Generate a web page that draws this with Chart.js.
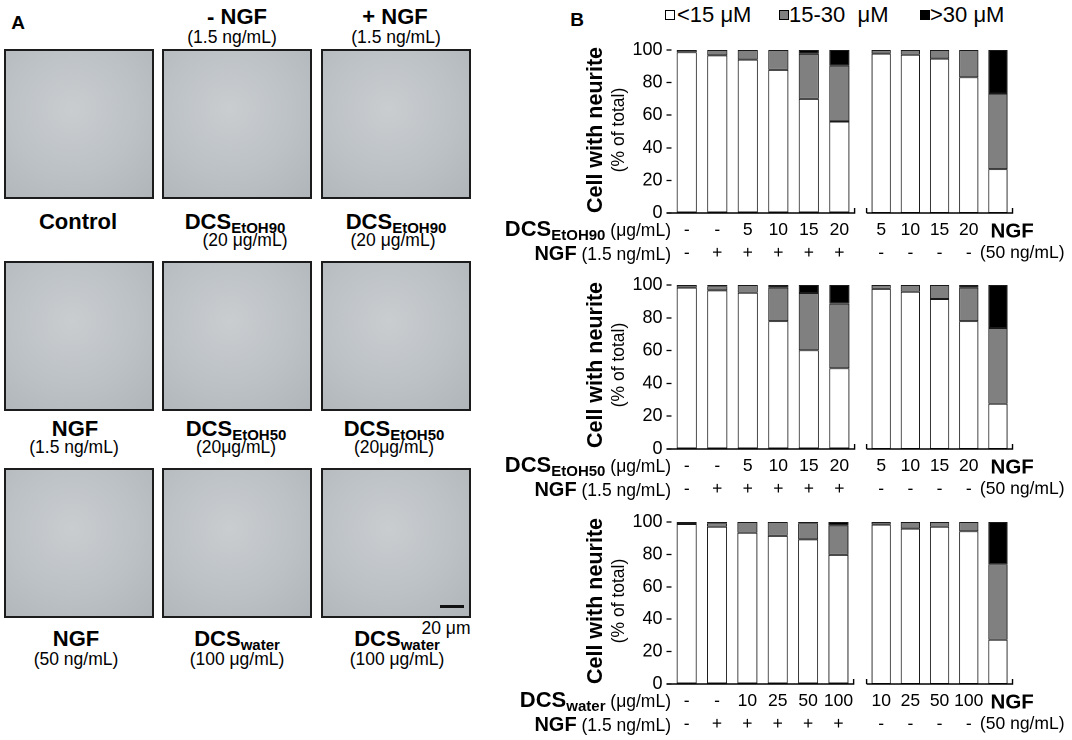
<!DOCTYPE html>
<html>
<head>
<meta charset="utf-8">
<script src="https://cdn.jsdelivr.net/npm/chart.js@4.4.1/dist/chart.umd.min.js"></script>
<style>
  body { margin: 0; width: 1072px; height: 740px; position: relative; overflow: hidden; background: #fff;
         font-family: "Liberation Sans", Arial, sans-serif; color: #000; }
  .t { position: absolute; white-space: pre; line-height: 1; transform: translate(-50%, -50%); }
  .r { position: absolute; white-space: pre; line-height: 1; transform: translateY(-50%); }
  .rot { position: absolute; white-space: pre; line-height: 1; transform: translate(-50%, -50%) rotate(-90deg); }
  .img { position: absolute; width: 150px; height: 150px; box-sizing: border-box; border: 2px solid #1c1c1c;
         background: radial-gradient(circle at 45% 40%, #c9cdd0 0%, #bcc1c5 55%, #b0b5b9 100%); }
  .sub { font-size: 15px; vertical-align: -0.3em; }
  .sq { position: absolute; width: 10px; height: 10px; box-sizing: border-box; border: 1px solid #000; transform: translateY(-50%); }
  canvas { position: absolute; }
</style>
</head>
<body>
<script>
// --- Data ---
const sizeClasses = ["<15 μM", "15-30  μM", ">30 μM"];
const sizeColors = ["#ffffff", "#808080", "#000000"];

const doseEtOH = ["-", "-", "5", "10", "15", "20"];
const doseEtOHAlone = ["5", "10", "15", "20", "NGF"];
const doseWater = ["-", "-", "10", "25", "50", "100"];
const doseWaterAlone = ["10", "25", "50", "100", "NGF"];
const ngfLowRow = ["-", "+", "+", "+", "+", "+"];
const ngfAloneRow = ["-", "-", "-", "-", "(50 ng/mL)"];
const yTicks = [0, 20, 40, 60, 80, 100];

// DCS EtOH90 (% of total)
const e90Co_lt15 = [98.6, 96.7, 94.1, 87.8, 70.0, 56.1];
const e90Co_mid = [1.4, 3.3, 5.9, 12.2, 27.6, 34.3];
const e90Co_gt30 = [0, 0, 0, 0, 2.4, 9.6];
const e90Al_lt15 = [97.8, 97.1, 94.7, 83.3, 26.9];
const e90Al_mid = [2.2, 2.9, 5.3, 16.7, 46.4];
const e90Al_gt30 = [0, 0, 0, 0, 26.7];

// DCS EtOH50
const e50Co_lt15 = [98.4, 96.7, 95.3, 78.0, 60.2, 49.2];
const e50Co_mid = [1.6, 2.5, 4.7, 20.4, 34.9, 39.4];
const e50Co_gt30 = [0, 0.8, 0, 1.6, 4.9, 11.4];
const e50Al_lt15 = [97.6, 95.9, 91.5, 78.0, 27.6];
const e50Al_mid = [2.4, 4.1, 8.5, 20.4, 46.2];
const e50Al_gt30 = [0, 0, 0, 1.6, 26.2];

// DCS water
const wCo_lt15 = [98.8, 97.1, 93.4, 91.4, 89.3, 79.7];
const wCo_mid = [1.2, 2.1, 6.6, 8.6, 9.9, 18.2];
const wCo_gt30 = [0, 0.8, 0, 0, 0.8, 2.1];
const wAl_lt15 = [98.4, 95.9, 97.1, 94.3, 27.3];
const wAl_mid = [1.6, 4.1, 2.9, 5.7, 46.6];
const wAl_gt30 = [0, 0, 0, 0, 26.1];

// --- Helpers ---
function put(html, x, y, size, bold, cls) {
  const d = document.createElement("div");
  d.className = cls || "t";
  d.style.left = x + "px";
  d.style.top = y + "px";
  d.style.fontSize = size + "px";
  if (bold) d.style.fontWeight = "bold";
  d.innerHTML = html;
  document.body.appendChild(d);
  return d;
}
function box(x, y) {
  const d = document.createElement("div");
  d.className = "img";
  d.style.left = x + "px";
  d.style.top = y + "px";
  document.body.appendChild(d);
}

// --- Panel A (micrograph frames and captions) ---
put("A", 18, 22, 19, true);
put("- NGF", 237, 17, 22, true);
put("(1.5 ng/mL)", 232, 38, 17.5);
put("+ NGF", 395, 17, 22, true);
put("(1.5 ng/mL)", 396, 38, 17.5);
[4, 162, 321].forEach(x => [49, 261, 468].forEach(y => box(x, y)));

put("Control", 78, 222, 22, true);
put('DCS<span class="sub">EtOH90</span>', 235, 223, 22, true);
put("(20 μg/mL)", 245, 241, 17.5);
put('DCS<span class="sub">EtOH90</span>', 396, 223, 22, true);
put("(20 μg/mL)", 393, 241, 17.5);

put("NGF", 75, 429, 22, true);
put("(1.5 ng/mL)", 74, 448, 17.5);
put('DCS<span class="sub">EtOH50</span>', 236, 430, 22, true);
put("(20μg/mL)", 236, 448, 17.5);
put('DCS<span class="sub">EtOH50</span>', 394, 430, 22, true);
put("(20μg/mL)", 394, 448, 17.5);

put("NGF", 76, 639, 22, true);
put("(50 ng/mL)", 76, 660, 17.5);
put('DCS<span class="sub">water</span>', 237, 640, 22, true);
put("(100 μg/mL)", 237, 660, 17.5);
put('DCS<span class="sub">water</span>', 397, 640, 22, true);
put("(100 μg/mL)", 397, 660, 17.5);
put("20 μm", 446, 629, 17.5);
const bar = document.createElement("div");
bar.style.cssText = "position:absolute;left:440px;top:605px;width:24px;height:3px;background:#111";
document.body.appendChild(bar);

// --- Panel B legend ---
put("B", 577, 19, 19, true);
const legendPos = [[665, 677], [779, 789], [920, 930]];
sizeClasses.forEach((s, i) => {
  const q = document.createElement("div");
  q.className = "sq";
  q.style.left = legendPos[i][0] + "px";
  q.style.top = "15px";
  q.style.background = sizeColors[i];
  document.body.appendChild(q);
  put(s, legendPos[i][1], 15, 22, false, "r");
});

// --- Chart plumbing ---
Chart.defaults.font.family = '"Liberation Sans", Arial, sans-serif';
Chart.defaults.color = "#000";

const bracket = {
  id: "bracket",
  afterDraw(chart, args, opts) {
    const { ctx, chartArea: a } = chart;
    ctx.save();
    ctx.strokeStyle = "#000";
    ctx.lineWidth = 1.4;
    ctx.beginPath();
    ctx.moveTo(a.left - (opts.extend || 0), a.bottom);
    ctx.lineTo(a.right, a.bottom);
    ctx.lineTo(a.right, a.bottom - 5);
    if (opts.leftTick) {
      ctx.moveTo(a.left, a.bottom);
      ctx.lineTo(a.left, a.bottom - 5);
    }
    ctx.stroke();
    ctx.restore();
  }
};

// last label of the "alone" group sits a little right of its bar
function padLast(n, pad) {
  return function (val, i) {
    const l = this.getLabelForValue(val);
    return i === n - 1 ? " ".repeat(pad) + l : l;
  };
}

const PAD_TOP = 18;

function makeChart(left, top, width, height, cfg) {
  const cv = document.createElement("canvas");
  cv.width = width;
  cv.height = height;
  cv.style.left = left + "px";
  cv.style.top = top + "px";
  document.body.appendChild(cv);
  const n = cfg.doses.length;
  const xTicks = {
    autoSkip: false, maxRotation: 0, padding: 6.5, color: "#000",
    font: c => (cfg.boldLast && c.index === n - 1) ? { size: 20.5, weight: "bold" } : { size: 17.5 }
  };
  const x2Ticks = { autoSkip: false, maxRotation: 0, padding: 1.5, color: "#000", font: { size: 17.5 } };
  if (cfg.boldLast) {
    xTicks.callback = padLast(n, 5);
    x2Ticks.callback = padLast(n, 10);
  }
  return new Chart(cv.getContext("2d"), {
    type: "bar",
    data: {
      labels: cfg.doses,
      datasets: cfg.series.map((d, i) => ({
        label: sizeClasses[i],
        data: d,
        backgroundColor: sizeColors[i],
        borderColor: "#1a1a1a",
        borderWidth: 1,
        borderSkipped: false,
        barPercentage: 0.66,
        categoryPercentage: 1
      }))
    },
    plugins: [bracket],
    options: {
      responsive: false,
      animation: false,
      devicePixelRatio: 2,
      layout: { padding: { top: PAD_TOP, bottom: 0, left: cfg.padL, right: cfg.padR } },
      plugins: {
        legend: { display: false },
        tooltip: { enabled: false },
        bracket: { extend: cfg.extend, leftTick: cfg.leftTick }
      },
      scales: {
        x: {
          type: "category", stacked: true, offset: true,
          grid: { display: false, drawTicks: false }, border: { display: false },
          ticks: xTicks,
          afterFit: s => { s.height = 28; }
        },
        x2: {
          type: "category", labels: cfg.ngf, offset: true, position: "bottom",
          grid: { display: false, drawTicks: false }, border: { display: false },
          ticks: x2Ticks,
          afterFit: s => { s.height = 26; }
        },
        y: {
          stacked: true, min: 0, max: 100, display: cfg.yAxis,
          afterBuildTicks: s => { s.ticks = yTicks.map(v => ({ value: v })); },
          ticks: { color: "#000", font: { size: 18 }, padding: 4 },
          grid: { drawOnChartArea: false, color: "#000", tickLength: 5, tickWidth: 1.3 },
          border: { display: false },
          afterFit: s => { s.width = cfg.yAxis ? 191.5 : 0; }
        }
      }
    }
  });
}

// --- Panel B rows ---
const rows = [
  { plotTop: 50, plotBottom: 213, sub: "EtOH90", doses: doseEtOH, alone: doseEtOHAlone,
    co: [e90Co_lt15, e90Co_mid, e90Co_gt30], al: [e90Al_lt15, e90Al_mid, e90Al_gt30] },
  { plotTop: 285, plotBottom: 449, sub: "EtOH50", doses: doseEtOH, alone: doseEtOHAlone,
    co: [e50Co_lt15, e50Co_mid, e50Co_gt30], al: [e50Al_lt15, e50Al_mid, e50Al_gt30] },
  { plotTop: 522, plotBottom: 684, sub: "water", doses: doseWater, alone: doseWaterAlone,
    co: [wCo_lt15, wCo_mid, wCo_gt30], al: [wAl_lt15, wAl_mid, wAl_gt30] }
];

rows.forEach(r => {
  const h = PAD_TOP + (r.plotBottom - r.plotTop) + 54;
  const top = r.plotTop - PAD_TOP;
  makeChart(480, top, 380, h, {
    doses: r.doses, ngf: ngfLowRow, series: r.co, yAxis: true,
    padL: 0, padR: 5.4, extend: 5, leftTick: false, boldLast: false
  });
  makeChart(860, top, 212, h, {
    doses: r.alone, ngf: ngfAloneRow, series: r.al, yAxis: false,
    padL: 6.6, padR: 54.6, extend: 0, leftTick: true, boldLast: true
  });

  const mid = (r.plotTop + r.plotBottom) / 2 - 2;
  put("Cell with neurite", 596, mid, 21.5, true, "rot");
  put("(% of total)", 619, mid, 17.5, false, "rot");

  const h1 = put('<b style="font-size:22px">DCS<span class="sub">' + r.sub + '</span></b> <span style="font-size:17.5px">(μg/mL)</span>',
                 0, r.plotBottom + 17, 17.5, false, "r");
  h1.style.left = "auto"; h1.style.right = (1072 - 671) + "px";
  const h2 = put('<b style="font-size:20px">NGF</b> <span style="font-size:17.5px">(1.5 ng/mL)</span>',
                 0, r.plotBottom + 40, 17.5, false, "r");
  h2.style.left = "auto"; h2.style.right = (1072 - 671) + "px";
});
</script>
</body>
</html>
